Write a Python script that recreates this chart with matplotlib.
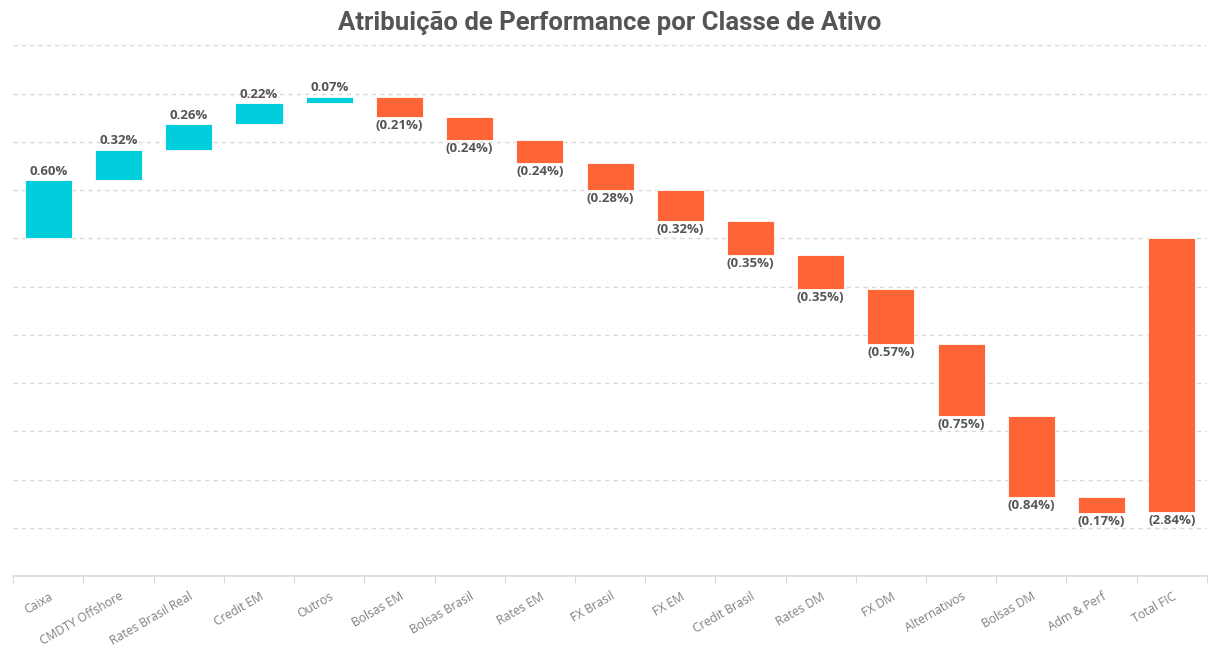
import matplotlib
matplotlib.use("Agg")
import matplotlib.pyplot as plt
import numpy as np

categories = ['Caixa', 'CMDTY Offshore', 'Rates Brasil Real', 'Credit EM', 'Outros',
              'Bolsas EM', 'Bolsas Brasil', 'Rates EM', 'FX Brasil', 'FX EM',
              'Credit Brasil', 'Rates DM', 'FX DM', 'Alternativos', 'Bolsas DM',
              'Adm & Perf']
contributions = [0.60, 0.32, 0.26, 0.22, 0.07,
                 -0.21, -0.24, -0.24, -0.28, -0.32,
                 -0.35, -0.35, -0.57, -0.75, -0.84,
                 -0.17]
total_label = 'Total FIC'
total_value = -2.84

pos_color = '#00CEDD'
neg_color = '#FF6436'
text_color = '#555555'

def fmt(v):
    return f"{v:.2f}%" if v >= 0 else f"({abs(v):.2f}%)"

def plot_waterfall():
    fig = plt.figure(figsize=(12.08, 6.48), dpi=100)
    ax = fig.add_axes([0.011, 0.111, 0.988, 0.819])

    labels = categories + [total_label]
    n = len(labels)
    x = np.arange(n)
    width = 0.67

    # running totals for the floating bars
    starts = np.concatenate([[0], np.cumsum(contributions)[:-1]])
    bottoms = list(starts) + [0]
    heights = list(contributions) + [total_value]
    colors = [pos_color if h >= 0 else neg_color for h in heights]

    ax.bar(x, heights, width, bottom=bottoms, color=colors,
           edgecolor='white', linewidth=0.6, zorder=3)

    for xi, b, h in zip(x, bottoms, heights):
        if h >= 0:
            ax.annotate(fmt(h), (xi, b + h), xytext=(0, 1.5), textcoords='offset points',
                        ha='center', va='bottom', fontsize=9.5, fontweight='bold',
                        color=text_color, family='Open Sans')
        else:
            ax.annotate(fmt(h), (xi, b + h), xytext=(0, -1.5), textcoords='offset points',
                        ha='center', va='top', fontsize=9.5, fontweight='bold',
                        color=text_color, family='Open Sans')

    ax.set_xlim(-0.5, n - 0.5)
    ax.set_ylim(-3.5, 2.0)
    ax.set_yticks(np.arange(-3.0, 2.01, 0.5))
    ax.yaxis.grid(True, linestyle=(0, (3, 3)), color='#d9d9d9', linewidth=1, zorder=0)
    ax.tick_params(axis='y', left=False, labelleft=False)

    # ticks sit between categories, labels at the category centers
    ax.set_xticks(np.arange(-0.5, n, 1.0))
    ax.tick_params(axis='x', which='major', length=5, color='#d9d9d9', labelbottom=False)
    ax.set_xticks(x, minor=True)
    ax.set_xticklabels(labels, minor=True, rotation=30, ha='right',
                       rotation_mode='anchor', fontsize=8.7, color='#808080',
                       family='Open Sans')
    ax.tick_params(axis='x', which='minor', length=0, pad=10)

    for side in ['top', 'right', 'left']:
        ax.spines[side].set_visible(False)
    ax.spines['bottom'].set_color('#d9d9d9')
    ax.spines['bottom'].set_linewidth(1.2)

    fig.text(0.505, 0.965, 'Atribuição de Performance por Classe de Ativo',
             ha='center', va='center', fontsize=18.5, fontweight='bold',
             color=text_color, family='Roboto')

    fig.savefig('out.png', dpi=100)
    plt.close(fig)

if __name__ == "__main__":
    plot_waterfall()
